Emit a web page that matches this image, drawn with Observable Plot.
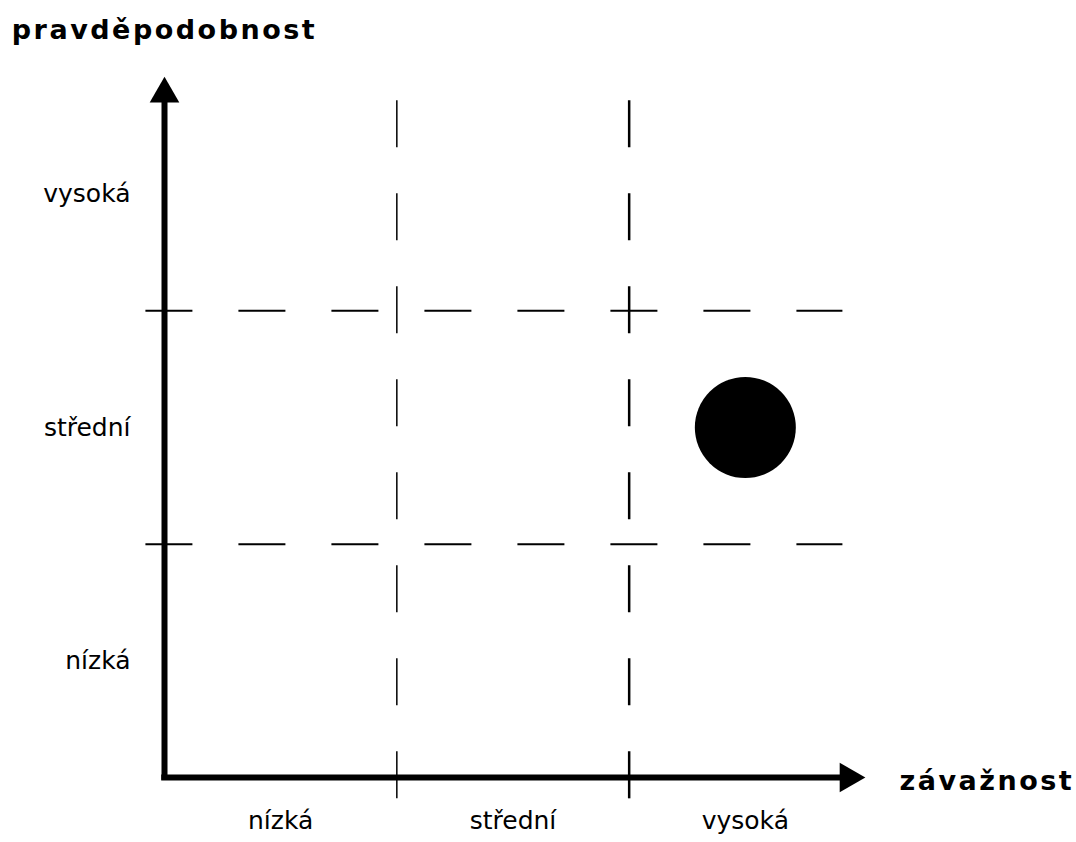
<!DOCTYPE html>
<html>
<head>
<meta charset="utf-8">
<script src="https://cdn.jsdelivr.net/npm/d3@7"></script>
<script src="https://cdn.jsdelivr.net/npm/@observablehq/plot@0.6"></script>
<style>
  html, body { margin: 0; padding: 0; background: #fff; }
  g[font-weight="bold"] text { letter-spacing: 2.5px; }
</style>
</head>
<body>
<div id="chart"></div>
<script>
// Categories
const levels = ["nízká", "střední", "vysoká"];
const levelPositions = [0.5, 1.5, 2.5];
// Zone boundaries
const boundaries = [1, 2];
// Axis titles
const yTitle = "pravděpodobnost";
const xTitle = "závažnost";
// The assessed risk: severity vysoká, probability střední
const riskX = [2.5];
const riskY = [1.5];

const risk = riskX.map((x, i) => ({x, y: riskY[i]}));

const chart = Plot.plot({
  width: 1076,
  height: 842,
  marginLeft: 164,
  marginRight: 215,
  marginTop: 77,
  marginBottom: 65,
  style: {fontFamily: "DejaVu Sans", fontSize: "25px", color: "#000", background: "#fff"},
  x: {domain: [0, 3], label: null},
  y: {domain: [0, 3], label: null},
  marks: [
    // dashed vertical zone boundaries
    Plot.ruleX(boundaries, {x: d => d, y1: 2.9, y2: -0.11, stroke: "#000",
      strokeWidth: d => d === 1 ? 1.5 : 2.5, strokeDasharray: "47,46"}),
    // dashed horizontal zone boundaries
    Plot.ruleY(boundaries, {y: d => d, x1: -0.08, x2: 2.92, stroke: "#000",
      strokeWidth: 2, strokeDasharray: "47,46"}),
    // axis shafts
    Plot.ruleX([0], {y1: -0.012, y2: 2.92, stroke: "#000", strokeWidth: 6}),
    Plot.ruleY([0], {x1: -0.012, x2: 2.93, stroke: "#000", strokeWidth: 6}),
    // arrow heads
    Plot.dot([{x: 0, y: 2.93}], {x: "x", y: "y", symbol: "triangle", r: 11, fill: "#000", stroke: null}),
    Plot.dot([{x: 2.943, y: 0}], {x: "x", y: "y", symbol: "triangle", r: 11, rotate: 90, fill: "#000", stroke: null}),
    // category labels
    Plot.axisX({ticks: levelPositions, tickFormat: (d, i) => levels[i], tickSize: 0, tickPadding: 34, label: null}),
    Plot.axisY({ticks: levelPositions, tickFormat: (d, i) => levels[i], tickSize: 0, tickPadding: 34, label: null}),
    // the risk point
    Plot.dot(risk, {x: "x", y: "y", r: 50.5, fill: "#000", stroke: null}),
    // axis titles
    Plot.text([yTitle], {x: 0, y: 3, text: d => d, dy: -47, fontSize: 27, fontWeight: "bold", textAnchor: "middle", fill: "#000"}),
    Plot.text([xTitle], {x: 3, y: 0, text: d => d, dx: 38, dy: 4, fontSize: 27, fontWeight: "bold", textAnchor: "start", fill: "#000"})
  ]
});
document.getElementById("chart").appendChild(chart);
</script>
</body>
</html>
